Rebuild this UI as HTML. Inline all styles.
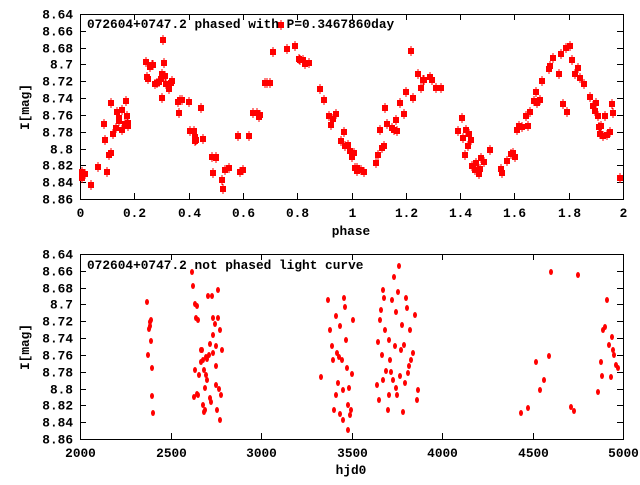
<!DOCTYPE html><html><head><style>body{margin:0;background:#fff}svg text{font-family:"Liberation Mono",monospace;font-weight:bold;font-size:12.8px;fill:#000}</style></head><body>
<svg id="s" width="640" height="480" xmlns="http://www.w3.org/2000/svg">
<rect width="640" height="480" fill="#fff"/>
<g id="g"></g>
<text x="87" y="28">072604+0747.2 phased with P=0.3467860day</text>
<text x="87" y="269">072604+0747.2 not phased light curve</text>
<text x="351" y="235" text-anchor="middle">phase</text>
<text x="351" y="474" text-anchor="middle">hjd0</text>
<text transform="translate(29,107) rotate(-90)" text-anchor="middle">I[mag]</text>
<text transform="translate(29,347) rotate(-90)" text-anchor="middle">I[mag]</text>
</svg>
<script>
var g=document.getElementById('g'),h='';
function ln(a,b,c,d){h+='<line x1="'+a+'" y1="'+b+'" x2="'+c+'" y2="'+d+'" stroke="#000" stroke-width="1"/>';}
function tx(x,y,t,an){h+='<text x="'+x+'" y="'+y+'" text-anchor="'+an+'">'+t+'</text>';}
var L=80,R=623;
var ylab=['8.64','8.66','8.68','8.7','8.72','8.74','8.76','8.78','8.8','8.82','8.84','8.86'];
function frame(T,B,xl){
 h+='<rect x="'+L+'.5" y="'+T+'.5" width="'+(R-L)+'" height="'+(B-T)+'" fill="none" stroke="#000"/>';
 for(var i=0;i<12;i++){var y=Math.round(T+(B-T)*i/11)+.5;ln(L,y,L+6,y);ln(R-6,y,R,y);tx(73,y+4,ylab[i],'end');}
 for(var i=0;i<xl.length;i++){var x=Math.round(L+(R-L)*i/(xl.length-1))+.5;ln(x,B,x,B-6);ln(x,T,x,T+6);tx(x,B+18,xl[i],'middle');}
}
frame(14,199,['0','0.2','0.4','0.6','0.8','1','1.2','1.4','1.6','1.8','2']);
frame(254,439,['2000','2500','3000','3500','4000','4500','5000']);
var A=[[82,172],[82,178],[85,174],[91,185],[98,167],[104,124],[105,140],[107,172],[109,155],[111,103],[111,153],[113,134],[116,128],[117,112],[119,118],[119,121],[122,110],[122,130],[125,124],[126,101],[127,116],[128,126],[128,123],[146,62],[147,77],[148,79],[150,67],[152,65],[153,65],[155,84],[157,83],[159,82],[161,79],[162,74],[162,98],[163,40],[164,63],[165,76],[166,84],[169,89],[171,83],[172,81],[178,102],[179,113],[180,100],[182,100],[189,102],[190,131],[194,131],[195,141],[195,137],[196,140],[201,108],[203,139],[212,157],[216,157],[213,173],[216,158],[222,180],[223,189],[225,170],[229,168],[238,136],[240,172],[243,170],[249,136],[253,113],[257,113],[259,117],[260,115],[265,83],[267,83],[270,83],[273,52],[281,25],[287,49],[295,46],[299,59],[300,60],[303,60],[305,64],[309,63],[320,89],[324,100],[329,116],[331,125],[333,119],[336,114],[341,141],[344,132],[345,146],[348,145],[350,151],[352,157],[354,153],[355,168],[357,168],[357,171],[361,170],[364,172],[376,163],[378,155],[380,130],[382,148],[384,146],[385,108],[387,124],[392,128],[394,130],[396,120],[397,131],[400,103],[404,114],[406,92],[411,51],[413,98],[418,74],[421,88],[423,80],[424,80],[430,77],[432,80],[436,88],[441,88],[458,131],[462,118],[463,138],[465,155],[466,130],[468,146],[469,134],[471,140],[472,166],[475,170],[476,163],[479,174],[480,169],[481,158],[484,162],[490,150],[501,169],[502,173],[507,161],[511,154],[513,153],[515,157],[517,130],[519,126],[522,127],[526,116],[528,126],[530,112],[534,101],[536,92],[537,103],[540,100],[542,81],[549,69],[550,66],[553,58],[559,74],[561,54],[563,104],[566,48],[567,112],[570,46],[572,60],[575,74],[578,68],[580,78],[584,84],[590,97],[593,106],[595,111],[596,103],[598,116],[599,127],[600,134],[601,126],[603,136],[605,116],[607,135],[610,132],[612,104],[613,113],[620,178]];
A.forEach(function(p){h+='<rect x="'+(p[0]-3)+'" y="'+(p[1]-3)+'" width="6" height="6" fill="#f00"/><line x1="'+p[0]+'" y1="'+(p[1]-5)+'" x2="'+p[0]+'" y2="'+(p[1]+5)+'" stroke="#f00"/>';});
var B=[[147,302],[148,355],[149,329],[150,322],[150,326],[151,320],[151,341],[152,368],[152,396],[153,413],[192,272],[193,286],[195,304],[196,318],[197,306],[198,320],[195,370],[194,397],[197,394],[198,395],[199,375],[201,362],[201,350],[202,350],[203,360],[204,370],[204,412],[205,388],[206,357],[206,375],[207,380],[207,359],[208,296],[209,355],[210,344],[211,402],[212,296],[213,318],[213,353],[215,324],[216,385],[216,366],[217,410],[218,290],[219,389],[220,420],[221,395],[220,330],[222,350],[218,318],[213,335],[216,346],[210,398],[205,410],[203,405],[321,377],[328,300],[330,330],[332,346],[333,360],[334,410],[336,316],[337,353],[338,383],[339,357],[340,326],[342,360],[343,390],[344,298],[345,307],[346,340],[347,368],[348,430],[349,388],[350,415],[351,410],[352,374],[353,320],[348,405],[340,414],[336,395],[343,420],[377,385],[378,342],[379,400],[380,320],[381,310],[382,355],[383,290],[384,298],[385,330],[386,371],[388,410],[389,340],[390,360],[391,372],[392,300],[393,380],[394,277],[395,346],[396,312],[397,395],[398,292],[399,266],[400,376],[401,350],[402,325],[403,412],[404,345],[405,383],[406,298],[407,308],[408,373],[409,366],[410,330],[411,360],[413,353],[415,315],[417,400],[418,390],[383,380],[389,395],[396,388],[521,413],[528,408],[536,362],[540,390],[544,380],[549,356],[551,272],[571,407],[574,411],[578,275],[598,392],[601,362],[602,376],[603,330],[605,327],[607,300],[609,345],[611,377],[612,337],[613,350],[614,355],[616,365],[618,368]];
B.forEach(function(p){h+='<ellipse cx="'+p[0]+'" cy="'+p[1]+'" rx="2" ry="3" fill="#f00"/>';});
g.innerHTML=h;
</script>
</body></html>
